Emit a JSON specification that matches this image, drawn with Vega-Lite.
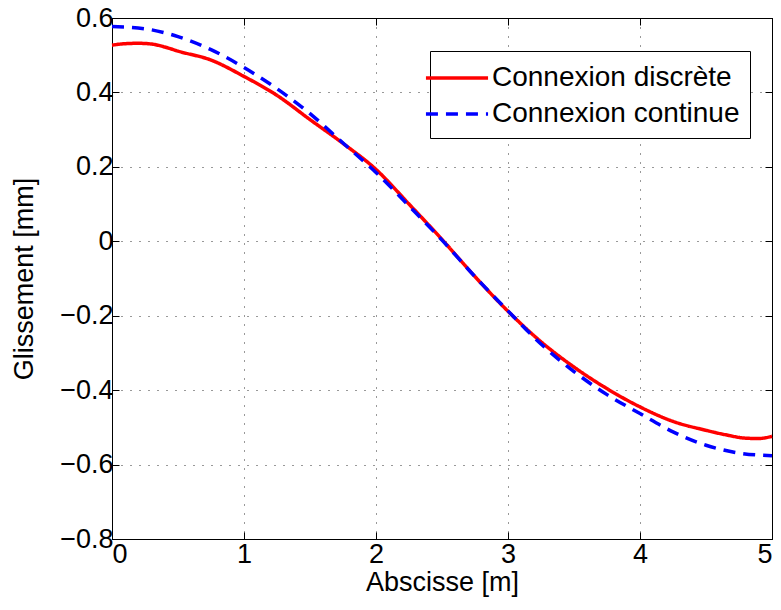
{
  "$schema": "https://vega.github.io/schema/vega-lite/v6.json",
  "width": 660,
  "height": 521,
  "autosize": {"type": "none"},
  "padding": {"left": 112, "top": 18, "right": 9, "bottom": 71},
  "background": "white",
  "config": {
    "font": "Liberation Sans",
    "view": {"stroke": "black", "strokeWidth": 1},
    "axis": {
      "labelFont": "Liberation Sans",
      "titleFont": "Liberation Sans",
      "labelFontSize": 27,
      "titleFontSize": 27,
      "labelColor": "black",
      "titleColor": "black",
      "titleFontWeight": "normal",
      "domainColor": "black",
      "tickColor": "black",
      "tickSize": -7,
      "gridColor": "#333333",
      "gridDash": [1, 8],
      "gridWidth": 1
    }
  },
  "data": {
    "values": [
      {"x": 0.0, "y": 0.527, "s": "Connexion discrète"},
      {"x": 0.1, "y": 0.531, "s": "Connexion discrète"},
      {"x": 0.2, "y": 0.532, "s": "Connexion discrète"},
      {"x": 0.3, "y": 0.530, "s": "Connexion discrète"},
      {"x": 0.4, "y": 0.522, "s": "Connexion discrète"},
      {"x": 0.5, "y": 0.511, "s": "Connexion discrète"},
      {"x": 0.75, "y": 0.487, "s": "Connexion discrète"},
      {"x": 1.0, "y": 0.443, "s": "Connexion discrète"},
      {"x": 1.25, "y": 0.392, "s": "Connexion discrète"},
      {"x": 1.5, "y": 0.327, "s": "Connexion discrète"},
      {"x": 1.75, "y": 0.263, "s": "Connexion discrète"},
      {"x": 2.0, "y": 0.193, "s": "Connexion discrète"},
      {"x": 2.25, "y": 0.100, "s": "Connexion discrète"},
      {"x": 2.5, "y": 0.005, "s": "Connexion discrète"},
      {"x": 2.75, "y": -0.095, "s": "Connexion discrète"},
      {"x": 3.0, "y": -0.188, "s": "Connexion discrète"},
      {"x": 3.25, "y": -0.270, "s": "Connexion discrète"},
      {"x": 3.5, "y": -0.338, "s": "Connexion discrète"},
      {"x": 3.75, "y": -0.396, "s": "Connexion discrète"},
      {"x": 4.0, "y": -0.445, "s": "Connexion discrète"},
      {"x": 4.25, "y": -0.484, "s": "Connexion discrète"},
      {"x": 4.5, "y": -0.508, "s": "Connexion discrète"},
      {"x": 4.65, "y": -0.520, "s": "Connexion discrète"},
      {"x": 4.8, "y": -0.529, "s": "Connexion discrète"},
      {"x": 4.9, "y": -0.530, "s": "Connexion discrète"},
      {"x": 5.0, "y": -0.524, "s": "Connexion discrète"},
      {"x": 0.0, "y": 0.577, "s": "Connexion continue"},
      {"x": 0.25, "y": 0.571, "s": "Connexion continue"},
      {"x": 0.5, "y": 0.550, "s": "Connexion continue"},
      {"x": 0.75, "y": 0.515, "s": "Connexion continue"},
      {"x": 1.0, "y": 0.467, "s": "Connexion continue"},
      {"x": 1.25, "y": 0.410, "s": "Connexion continue"},
      {"x": 1.5, "y": 0.343, "s": "Connexion continue"},
      {"x": 1.75, "y": 0.264, "s": "Connexion continue"},
      {"x": 2.0, "y": 0.185, "s": "Connexion continue"},
      {"x": 2.25, "y": 0.095, "s": "Connexion continue"},
      {"x": 2.5, "y": 0.003, "s": "Connexion continue"},
      {"x": 2.75, "y": -0.095, "s": "Connexion continue"},
      {"x": 3.0, "y": -0.187, "s": "Connexion continue"},
      {"x": 3.25, "y": -0.276, "s": "Connexion continue"},
      {"x": 3.5, "y": -0.350, "s": "Connexion continue"},
      {"x": 3.75, "y": -0.412, "s": "Connexion continue"},
      {"x": 4.0, "y": -0.463, "s": "Connexion continue"},
      {"x": 4.25, "y": -0.512, "s": "Connexion continue"},
      {"x": 4.5, "y": -0.548, "s": "Connexion continue"},
      {"x": 4.75, "y": -0.569, "s": "Connexion continue"},
      {"x": 5.0, "y": -0.576, "s": "Connexion continue"}
    ]
  },
  "layer": [
    {
      "mark": {"type": "line", "strokeWidth": 3.5, "interpolate": "monotone"},
      "encoding": {
        "x": {
          "field": "x", "type": "quantitative",
          "scale": {"domain": [0, 5], "nice": false, "zero": false},
          "axis": {"title": "Abscisse [m]", "values": [0, 1, 2, 3, 4, 5], "format": "d", "labelPadding": 9, "titlePadding": 2, "grid": true}
        },
        "y": {
          "field": "y", "type": "quantitative",
          "scale": {"domain": [-0.8, 0.6], "nice": false, "zero": false},
          "axis": {"title": "Glissement [mm]", "values": [-0.8, -0.6, -0.4, -0.2, 0, 0.2, 0.4, 0.6], "format": ".1~f", "labelPadding": 6, "titlePadding": 21, "grid": true}
        },
        "color": {
          "field": "s", "type": "nominal",
          "scale": {"domain": ["Connexion discrète", "Connexion continue"], "range": ["#ff0000", "#0000ff"]},
          "legend": {
            "title": null,
            "orient": "none",
            "legendX": 318,
            "legendY": 33,
            "direction": "vertical",
            "fillColor": "white",
            "strokeColor": "black",
            "padding": 10,
            "symbolType": "M-2.07,0H2.07",
            "symbolSize": 900,
            "symbolStrokeWidth": 3.5,
            "labelFontSize": 28,
            "labelFont": "Liberation Sans",
            "labelColor": "black",
            "labelOffset": 18,
            "rowPadding": 5,
            "labelLimit": 400
          }
        },
        "strokeDash": {
          "field": "s", "type": "nominal",
          "scale": {"domain": ["Connexion discrète", "Connexion continue"], "range": [[1, 0], [12, 8]]},
          "legend": null
        }
      }
    },
    {
      "mark": {"type": "line", "strokeOpacity": 0},
      "encoding": {
        "x": {"field": "x", "type": "quantitative", "axis": {"orient": "top", "labels": false, "title": null, "values": [0, 1, 2, 3, 4, 5], "grid": false}},
        "y": {"field": "y", "type": "quantitative", "axis": {"orient": "right", "labels": false, "title": null, "values": [-0.8, -0.6, -0.4, -0.2, 0, 0.2, 0.4, 0.6], "grid": false}},
        "detail": {"field": "s", "type": "nominal"}
      }
    }
  ],
  "resolve": {"axis": {"x": "independent", "y": "independent"}}
}
